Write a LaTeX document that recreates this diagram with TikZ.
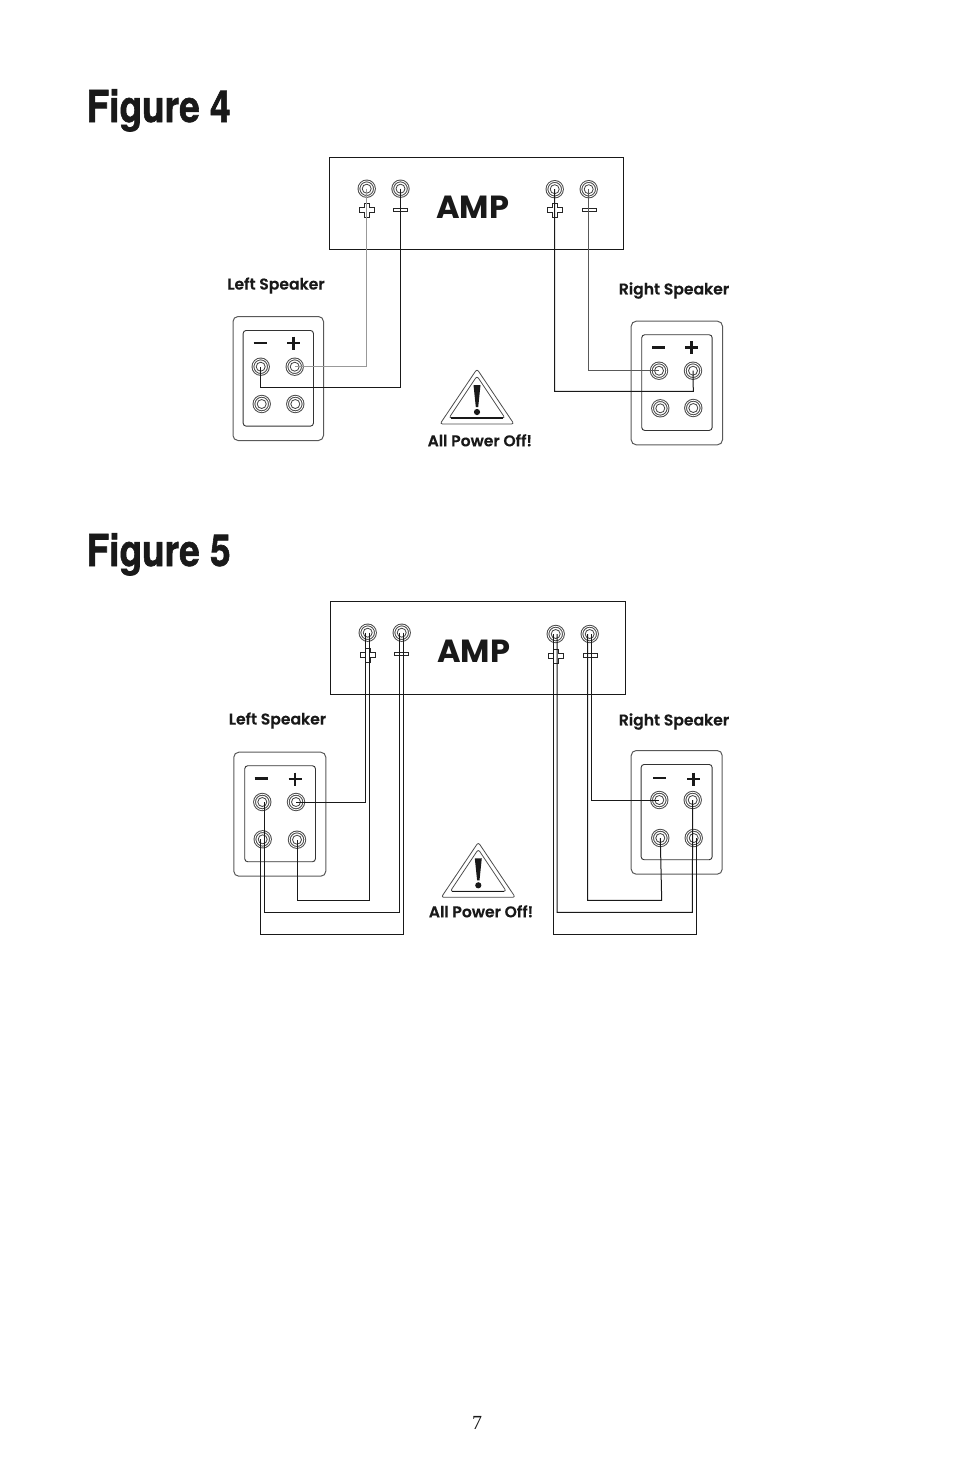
\documentclass[tikz,border=0pt]{standalone}
\usepackage{fontspec}
\setmainfont{Liberation Serif}
\newfontfamily\labfont[FakeBold=0.3]{Poppins SemiBold}
\newfontfamily\ampfont{Poppins}
\newfontfamily\titfont[FakeBold=1.5]{TeX Gyre Heros Bold}
\tikzset{
  x=1pt,y=-1pt,
  wire/.style={line width=1pt,black!90},
  graywire/.style={line width=1pt,black!40},
  midwire/.style={line width=1pt,black!65},
  ampbox/.style={draw=black!90,line width=1pt},
  spkouter/.style={draw=black!65,line width=1pt,rounded corners=5pt},
  spkinner/.style={draw=black!80,line width=.9pt,rounded corners=3pt},
  termo/.style={circle,draw=black!70,line width=1pt,double=white,double distance=.8pt,fill=white,minimum size=15.5pt,inner sep=0pt},
  termi/.style={circle,draw=black!75,line width=.8pt,minimum size=9pt,inner sep=0pt},
  figtitle/.style={inner sep=0pt,anchor=base west,font=\titfont\fontsize{44}{44}\selectfont,xscale=.84,black!90},
  speakerlab/.style={inner sep=0pt,font=\labfont\fontsize{15.6}{15.6}\selectfont,black!90},
  amplab/.style={inner sep=0pt,font=\ampfont\bfseries\fontsize{32}{32}\selectfont,black!90},
  signbar/.style={line width=2.2pt,black!90},
  ampmark/.style={draw=black!85,line width=1pt,fill=white},
  warnline/.style={draw=black!70,line width=.8pt,rounded corners=2.5pt},
  warnfill/.style={fill=black!90},
}
\newcommand{\term}[3]{\node[termo] (#1) at (#2,#3) {}; \node[termi] (#1i) at (#1) {};}
\newcommand{\ampplus}[2]{\draw[ampmark] (#1-2.4,#2-7) -- (#1+2.4,#2-7) -- (#1+2.4,#2-2.4) -- (#1+7.3,#2-2.4) -- (#1+7.3,#2+2.4) -- (#1+2.4,#2+2.4) -- (#1+2.4,#2+7) -- (#1-2.4,#2+7) -- (#1-2.4,#2+2.4) -- (#1-7.3,#2+2.4) -- (#1-7.3,#2-2.4) -- (#1-2.4,#2-2.4) -- cycle;}
\newcommand{\ampminus}[2]{\draw[ampmark] (#1-7,#2-1.8) rectangle (#1+7,#2+1.8);}
\newcommand{\spksigns}[4]{%
  \draw[signbar] (#1-6.5,#2) -- (#1+6.5,#2);
  \draw[signbar] (#3-6.5,#4) -- (#3+6.5,#4) (#3,#4-6.5) -- (#3,#4+6.5);}
\newcommand{\warn}[2]{%
  \draw[warnline] (#1,#2) -- (#1+37,#2+55) -- (#1-37,#2+55) -- cycle;
  \draw[warnline] (#1,#2+7) -- (#1+28,#2+49) -- (#1-28,#2+49) -- cycle;
  \draw[black!90,line width=1.3pt] (#1-26,#2+49) -- (#1+26,#2+49);
  \fill[warnfill] (#1-3.5,#2+16) -- (#1+3.5,#2+16) -- (#1+1.2,#2+38) -- (#1-1.2,#2+38) -- cycle;
  \fill[warnfill] (#1,#2+43) circle (3.1pt);}
\begin{document}
\begin{tikzpicture}
\useasboundingbox (0,0) rectangle (954,1475);
% ---------- Figure 4
\node[figtitle] (t4) at (86.5,122) {Figure 4};
\node[ampbox,minimum width=294pt,minimum height=92pt,inner sep=0pt,anchor=north west] (amp4) at (329,157) {};
\node[amplab,anchor=center] (amp4l) at (472.5,207) {AMP};
\term{a4lp}{366.7}{188.7}\term{a4lm}{400.5}{188.7}\term{a4rp}{554.7}{189.2}\term{a4rm}{588.7}{189.2}
\ampplus{366.7}{210}\ampminus{400.5}{210}\ampplus{555}{210}\ampminus{589}{210}
\node[speakerlab] (ls4) at (276,285.5) {Left Speaker};
\node[speakerlab] (rs4) at (674,290.5) {Right Speaker};
\node[spkouter,minimum width=90.5pt,minimum height=124pt,inner sep=0pt,anchor=north west] (ol4) at (232.5,316) {};
\node[spkinner,minimum width=70.3pt,minimum height=95.7pt,inner sep=0pt,anchor=north west] (il4) at (242.7,330) {};
\spksigns{260}{343}{293.5}{343}
\term{s4l1}{260.7}{366.7}\term{s4l2}{294.7}{366.7}\term{s4l3}{261.7}{404}\term{s4l4}{295.3}{404}
\node[spkouter,minimum width=91.3pt,minimum height=123.6pt,inner sep=0pt,anchor=north west] (or4) at (630.7,320.7) {};
\node[spkinner,minimum width=70.4pt,minimum height=95.7pt,inner sep=0pt,anchor=north west] (ir4) at (641.3,334.3) {};
\spksigns{658.5}{347.5}{691.5}{347.5}
\term{s4r1}{659}{370.7}\term{s4r2}{693}{370.7}\term{s4r3}{660.3}{408.3}\term{s4r4}{693.3}{408}
\draw[graywire] (a4lp.center) |- (s4l2.center);
\coordinate (w4l) at (260.7,387.3);
\draw[wire] (a4lm.center) |- (w4l) -- (s4l1.center);
\draw[midwire] (a4rm.center) |- (s4r1.center);
\coordinate (w4r) at (693.3,391.3);
\draw[wire] (a4rp.center) |- (w4r) -- (s4r2.center);
\warn{477}{369}
\node[speakerlab] (w4t) at (479.8,440.3) {All Power Off!};
% ---------- Figure 5
\node[figtitle] (t5) at (86.5,566) {Figure 5};
\node[ampbox,minimum width=295pt,minimum height=93pt,inner sep=0pt,anchor=north west] (amp5) at (330.3,601.3) {};
\node[amplab,anchor=center] (amp5l) at (473.5,651) {AMP};
\term{a5lp}{367.7}{632.7}\term{a5lm}{401.7}{632.7}\term{a5rp}{555.7}{634}\term{a5rm}{589.7}{634}
\ampplus{367.7}{655}\ampminus{401.7}{654}\ampplus{556}{656}\ampminus{590}{655.6}
\node[speakerlab] (ls5) at (277.5,720.5) {Left Speaker};
\node[speakerlab] (rs5) at (674,721.5) {Right Speaker};
\node[spkouter,minimum width=92pt,minimum height=124pt,inner sep=0pt,anchor=north west] (ol5) at (233.3,751.7) {};
\node[spkinner,minimum width=70.7pt,minimum height=96pt,inner sep=0pt,anchor=north west] (il5) at (244.3,765.3) {};
\spksigns{261}{778.5}{295}{779}
\term{s5l1}{262.3}{802}\term{s5l2}{296}{802}\term{s5l3}{262.7}{839.3}\term{s5l4}{297}{839.7}
\node[spkouter,minimum width=91pt,minimum height=123.7pt,inner sep=0pt,anchor=north west] (or5) at (630.7,750) {};
\node[spkinner,minimum width=71pt,minimum height=95.3pt,inner sep=0pt,anchor=north west] (ir5) at (640.7,764) {};
\spksigns{659.5}{778}{693.5}{779}
\term{s5r1}{659.3}{800}\term{s5r2}{692.7}{800}\term{s5r3}{660.3}{838}\term{s5r4}{693.7}{838}
\draw[wire] ([xshift=-2pt]a5lp.center) |- (s5l2.center);
\coordinate (w5b) at (297,900.3);
\draw[wire] ([xshift=1.6pt]a5lp.center) |- (w5b) -- (s5l4.center);
\coordinate (w5c) at (264.7,912.3); \coordinate (w5ct) at (264.7,802);
\draw[wire] ([xshift=-2pt]a5lm.center) |- (w5c) -- (w5ct);
\coordinate (w5d) at (260.7,934); \coordinate (w5dt) at (260.7,839.3);
\draw[wire] ([xshift=1.6pt]a5lm.center) |- (w5d) -- (w5dt);
\draw[wire] ([xshift=2pt]a5rm.center) |- (s5r1.center);
\coordinate (w5f) at (661.7,900.3);
\draw[wire] ([xshift=-2pt]a5rm.center) |- (w5f) -- (s5r3.center);
\coordinate (w5g) at (692.3,912.3);
\draw[wire] ([xshift=1.3pt]a5rp.center) |- (w5g) -- (s5r2.center);
\coordinate (w5h) at (696.3,934); \coordinate (w5ht) at (696.3,838);
\draw[wire] ([xshift=-2pt]a5rp.center) |- (w5h) -- (w5ht);
\warn{478.3}{842.3}
\node[speakerlab] (w5t) at (481,911.3) {All Power Off!};
% ---------- page number
\node[inner sep=0pt,font=\fontsize{20}{20}\selectfont,black!90] (pg) at (477,1423) {7};
\end{tikzpicture}
\end{document}
